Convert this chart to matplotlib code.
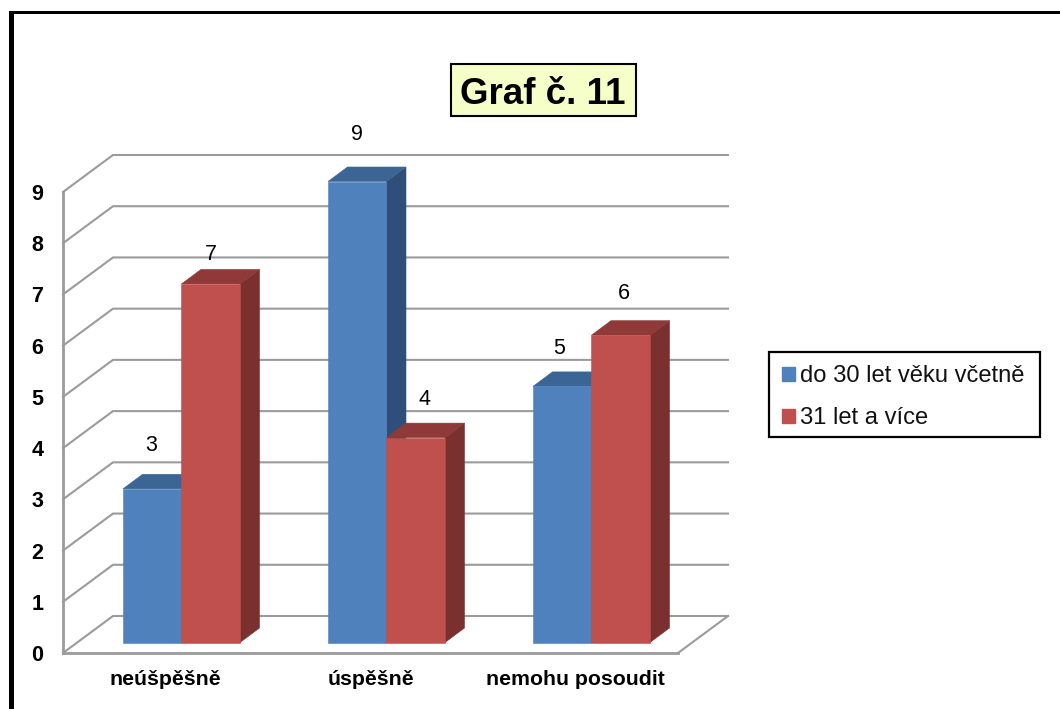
# Clustered bar chart with a hand built 3D look (walls, bar tops and bar sides)

import matplotlib
matplotlib.use("Agg")
import matplotlib.pyplot as plt
from matplotlib.patches import Patch, Polygon, Rectangle

categories = ["neúšpěšně", "úspěšně", "nemohu posoudit"]
series_names = ["do 30 let věku včetně", "31 let a více"]
young = [3, 9, 5]
older = [7, 4, 6]
y_ticks = [0, 1, 2, 3, 4, 5, 6, 7, 8, 9]

# Hand placed value labels, offset from the bar front centre in points
young_offsets = [(-0.5, 23.5), (-0.5, 26), (-2, 19.5)]
older_offsets = [(0, 13.5), (6, 20), (2, 22.5)]

W, H = 1060, 709
GRID = "#9b9b9b"
COLORS = {"young": ("#4f81bd", "#3a6595", "#2f4f7a"),
          "older": ("#c0504d", "#8f3a38", "#7a302e")}

fig = plt.figure(figsize=(W / 100, H / 100), dpi=100, facecolor="white")
plt.rcParams["font.family"] = ["Liberation Sans", "DejaVu Sans"]

# Page frame: only the top and left edges show
fig.add_artist(Rectangle((9 / W, 0), 5 / W, 1 - 11 / H, transform=fig.transFigure, color="black", lw=0))
fig.add_artist(Rectangle((9 / W, 1 - 14 / H), 1 - 9 / W, 3 / H, transform=fig.transFigure, color="black", lw=0))

ax = fig.add_axes([63 / W, 1 - 653 / H, 615 / W, 461 / H])
ax.set_xlim(-0.5, 2.5)
ax.set_ylim(0, 9)
ax.patch.set_visible(False)

# Depth of the chart walls, the floor gap and the bars, in data units
px_x = 3 / 615
px_y = 9 / 461
wall_dx, wall_dy = 50 * px_x, 37 * px_y
floor = 10.5 * px_y
bar_dx, bar_dy = 19.5 * px_x, 14.5 * px_y
bar_w = 58.5 * px_x
shift = 0.078

# Walls and gridlines
for v in y_ticks:
    ax.plot([-0.5, -0.5 + wall_dx, 2.5 + wall_dx], [v, v + wall_dy, v + wall_dy],
            color=GRID, lw=1.5, clip_on=False, zorder=1, solid_joinstyle="miter")
ax.plot([2.5, 2.5 + wall_dx], [0, wall_dy], color=GRID, lw=1.5, clip_on=False, zorder=1)


def draw_bars(values, offsets, left_shift, cols, z):
    front, top, side = cols
    for i, v in enumerate(values):
        x0 = i + shift + left_shift
        x1 = x0 + bar_w
        y1 = floor + v
        ax.add_patch(Polygon([(x1, floor), (x1 + bar_dx, floor + bar_dy), (x1 + bar_dx, y1 + bar_dy), (x1, y1)],
                             facecolor=side, edgecolor=side, lw=0.4, zorder=z, clip_on=False))
        ax.add_patch(Polygon([(x0, y1), (x1, y1), (x1 + bar_dx, y1 + bar_dy), (x0 + bar_dx, y1 + bar_dy)],
                             facecolor=top, edgecolor=top, lw=0.4, zorder=z, clip_on=False))
        ax.bar(x0, v, bar_w, bottom=floor, align="edge", color=front, edgecolor=front, lw=0.4,
               zorder=z, clip_on=False)
        ax.annotate(str(v), (x0 + bar_w / 2, y1), xytext=offsets[i], textcoords="offset points",
                    ha="center", va="bottom", fontsize=15.5, color="black", zorder=10, annotation_clip=False)


draw_bars(young, young_offsets, -bar_w, COLORS["young"], 3)
draw_bars(older, older_offsets, 0, COLORS["older"], 4)

# Axes
for s in ["top", "right"]:
    ax.spines[s].set_visible(False)
for s in ["left", "bottom"]:
    ax.spines[s].set_color(GRID)
    ax.spines[s].set_linewidth(2)
ax.set_xticks(range(len(categories)))
ax.set_xticklabels(categories, fontsize=15.3, fontweight="bold")
ax.set_yticks(y_ticks)
ax.set_yticklabels([str(t) for t in y_ticks], fontsize=15.5, fontweight="bold")
ax.tick_params(axis="x", length=0, pad=12.5)
ax.tick_params(axis="y", length=0, pad=14)

# Legend, with its box drawn on its own so the size stays fixed
fig.add_artist(Rectangle((769 / W, 1 - 437 / H), 271 / W, 85 / H, transform=fig.transFigure,
                         facecolor="white", edgecolor="black", linewidth=1.6))
handles = [Patch(color=COLORS["young"][0]), Patch(color=COLORS["older"][0])]
leg = fig.legend(handles, series_names, loc="upper left",
                 bbox_to_anchor=(769 / W, 1 - 352 / H), bbox_transform=fig.transFigure,
                 fontsize=17.1, frameon=False,
                 handlelength=0.55, handleheight=0.55, handletextpad=0.2, labelspacing=0.85,
                 borderpad=0.55, borderaxespad=0, labelcolor="#111111")

# Title box
fig.add_artist(Rectangle((451 / W, 1 - 116 / H), 185 / W, 52 / H, transform=fig.transFigure,
                         facecolor="#f6ffc8", edgecolor="black", linewidth=1.5))
fig.text(543 / W, 1 - 104 / H, "Graf č. 11", fontsize=26.5, fontweight="bold", ha="center", va="baseline")

fig.savefig("out.png", dpi=100)
